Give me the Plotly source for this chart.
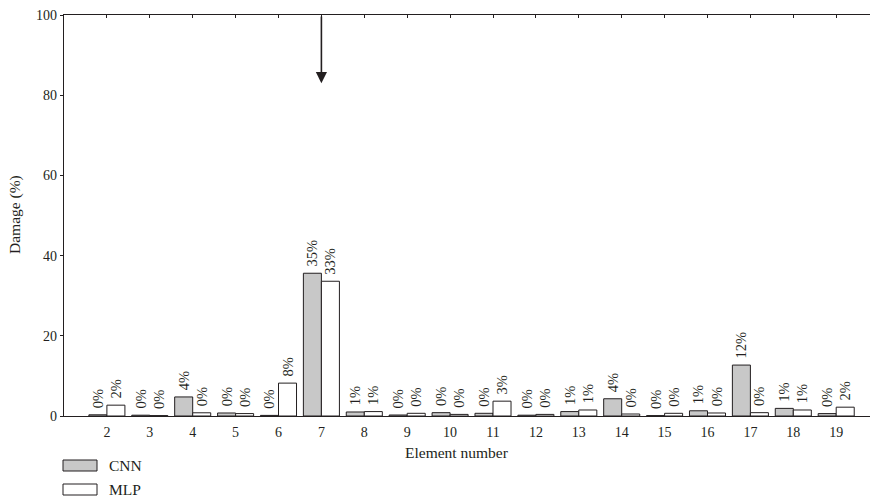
import plotly.graph_objects as go

# Element numbers and identified damage (%) for each network
elements = list(range(2, 20))
cnn_damage = [0.3, 0.2, 4.75, 0.75, 0.15, 35.6, 1.0, 0.25, 0.83, 0.67, 0.2, 1.1, 4.3, 0.1, 1.3, 12.7, 1.9, 0.6]
mlp_damage = [2.7, 0.1, 0.8, 0.6, 8.2, 33.6, 1.1, 0.67, 0.4, 3.7, 0.4, 1.5, 0.5, 0.67, 0.75, 0.83, 1.5, 2.2]
y_ticks = [0, 20, 40, 60, 80, 100]
damaged_element = 7

SERIF = "Liberation Serif, Times New Roman, serif"
INK = "#231f20"

# Percent labels show the whole-number part of each value
# (leading space keeps the rotated label clear of the bar top)
cnn_text = [f" {int(v)}%" for v in cnn_damage]
mlp_text = [f" {int(v)}%" for v in mlp_damage]

W, H = 870, 501
ML, MR, MT, MB = 64, 0, 15, 85
PW, PH = W - ML - MR, H - MT - MB
STEP = 42.9  # pixels per element
x_range = [1, 1 + PW / STEP]


def px(x):
    return (x - ML) / PW


def py(y):
    return (MT + PH - y) / PH


fig = go.Figure()
fig.add_trace(go.Bar(
    x=elements, y=cnn_damage, name="CNN", text=cnn_text,
    textposition="outside", textangle=-90, cliponaxis=False, constraintext="none",
    textfont=dict(family=SERIF, size=14.5, color=INK),
    marker=dict(color="#c8c8c8", line=dict(color=INK, width=1)),
))
fig.add_trace(go.Bar(
    x=elements, y=mlp_damage, name="MLP", text=mlp_text,
    textposition="outside", textangle=-90, cliponaxis=False, constraintext="none",
    textfont=dict(family=SERIF, size=14.5, color=INK),
    marker=dict(color="white", line=dict(color=INK, width=1)),
))
# invisible trace carrying the top axis with inward ticks
fig.add_trace(go.Scatter(x=[elements[0]], y=[0], xaxis="x2", mode="markers",
                         marker=dict(opacity=0), showlegend=False, hoverinfo="skip"))

fig.update_layout(
    width=W, height=H,
    margin=dict(l=ML, r=MR, t=MT, b=MB),
    paper_bgcolor="white", plot_bgcolor="white",
    barmode="group", bargap=0.16, bargroupgap=0,
    showlegend=False,
    font=dict(family=SERIF, size=14, color=INK),
    xaxis=dict(
        range=x_range, tickvals=elements, ticktext=[str(e) for e in elements],
        showgrid=False, zeroline=False, showline=True, linecolor=INK, linewidth=1.3,
        ticks="", ticklabelstandoff=3, tickfont=dict(family=SERIF, size=14, color=INK),
    ),
    xaxis2=dict(
        overlaying="x", side="top", range=x_range, tickvals=elements,
        showticklabels=False, ticks="inside", ticklen=3, tickcolor=INK,
        showgrid=False, zeroline=False, showline=True, linecolor=INK, linewidth=1.3,
    ),
    yaxis=dict(
        range=[0, 100], tickvals=y_ticks, showgrid=False, zeroline=False,
        showline=True, linecolor=INK, linewidth=1.3,
        ticks="outside", ticklen=3, tickcolor=INK,
        tickfont=dict(family=SERIF, size=14, color=INK),
    ),
)

# arrow marking the damaged element
fig.add_annotation(
    x=damaged_element, y=83, ax=damaged_element, ay=100,
    xref="x", yref="y", axref="x", ayref="y",
    showarrow=True, arrowhead=2, arrowsize=1.4, arrowwidth=1.6,
    arrowcolor=INK, standoff=0, text="",
)

# axis titles
fig.add_annotation(text="Element number", x=px(457), y=py(453), xref="paper", yref="paper",
                   xanchor="center", yanchor="middle", showarrow=False,
                   font=dict(family=SERIF, size=15.5, color=INK))
fig.add_annotation(text="Damage (%)", x=px(15), y=py(215), xref="paper", yref="paper",
                   xanchor="center", yanchor="middle", showarrow=False, textangle=-90,
                   font=dict(family=SERIF, size=15.5, color=INK))

# legend drawn as boxes and labels below the axis
legend_items = [("CNN", "#c8c8c8", 460), ("MLP", "white", 484)]
for label, fill, top in legend_items:
    fig.add_shape(type="rect", xref="paper", yref="paper",
                  x0=px(63), x1=px(97), y0=py(top), y1=py(top + 11),
                  fillcolor=fill, line=dict(color=INK, width=1))
    fig.add_annotation(text=label, x=px(107), y=py(top + 5.5), xref="paper", yref="paper",
                       xanchor="left", yanchor="middle", showarrow=False,
                       font=dict(family=SERIF, size=15.5, color=INK))

fig.write_html("out.html")
